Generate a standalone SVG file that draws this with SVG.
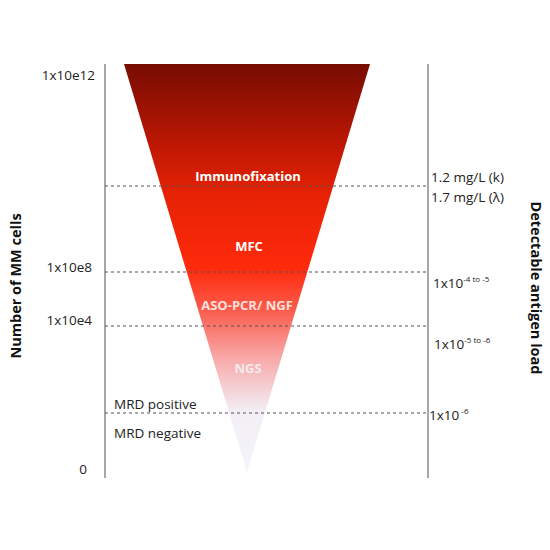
<svg xmlns="http://www.w3.org/2000/svg" width="550" height="550" viewBox="0 0 550 550">
<style>
.lbl{font-family:"Open Sans","Liberation Sans",sans-serif;font-size:13.5px;fill:#222}
.ax{font-family:"Open Sans","Liberation Sans",sans-serif;font-size:14.5px;font-weight:bold;fill:#111}
.in{font-family:"Open Sans","Liberation Sans",sans-serif;font-size:13px;font-weight:bold;text-anchor:middle}
.axis{stroke:#777;stroke-width:1.3;fill:none}
.dash{stroke:#555;stroke-width:1;stroke-dasharray:3,3;fill:none}
</style>
<defs>
<linearGradient id="g" x1="0" y1="64" x2="0" y2="472" gradientUnits="userSpaceOnUse">
<stop offset="0" stop-color="#760c02"/>
<stop offset="0.18" stop-color="#b81604"/>
<stop offset="0.32" stop-color="#e62204"/>
<stop offset="0.5" stop-color="#ff2a0c"/>
<stop offset="0.6" stop-color="#fb5a4a"/>
<stop offset="0.72" stop-color="#f8a8a8"/>
<stop offset="0.85" stop-color="#f2eef4"/>
<stop offset="1" stop-color="#f4f4fa"/>
</linearGradient>
</defs>
<rect width="550" height="550" fill="#fff"/>
<g id="funnel"><polygon points="124,64 370,64 247,472" fill="url(#g)"/></g>
<g id="connectors">
<line class="axis" x1="105" y1="64" x2="105" y2="478"/>
<line class="axis" x1="428" y1="64" x2="428" y2="478"/>
<line class="dash" x1="105" y1="186" x2="428" y2="186"/>
<line class="dash" x1="105" y1="272" x2="428" y2="272"/>
<line class="dash" x1="105" y1="326" x2="428" y2="326"/>
<line class="dash" x1="105" y1="413" x2="428" y2="413"/>
</g>
<g id="methods">
<text class="in" x="248" y="181" fill="#fff">Immunofixation</text>
<text class="in" x="249" y="251" fill="#fff">MFC</text>
<text class="in" x="247" y="310" fill="#fde0dc">ASO-PCR/ NGF</text>
<text class="in" x="248" y="373" fill="#f3eaee">NGS</text>
</g>
<g id="left-labels">
<text class="lbl" x="95" y="80" text-anchor="end">1x10e12</text>
<text class="lbl" x="92" y="272" text-anchor="end">1x10e8</text>
<text class="lbl" x="92" y="325" text-anchor="end">1x10e4</text>
<text class="lbl" x="87" y="474" text-anchor="end">0</text>
<text class="lbl" x="114" y="409">MRD positive</text>
<text class="lbl" x="114" y="438">MRD negative</text>
<text class="ax" transform="translate(21,286) rotate(-90)" text-anchor="middle">Number of MM cells</text>
</g>
<g id="right-labels">
<text class="lbl" x="431" y="182">1.2 mg/L (k)</text>
<text class="lbl" x="431" y="202">1.7 mg/L (λ)</text>
<text class="lbl" x="433" y="288">1x10<tspan font-size="8" dy="-6">-4 to -5</tspan></text>
<text class="lbl" x="434" y="349">1x10<tspan font-size="8" dy="-6">-5 to -6</tspan></text>
<text class="lbl" x="429" y="420">1x10<tspan font-size="8" dy="-6"> -6</tspan></text>
<text class="ax" transform="translate(531,288) rotate(90)" text-anchor="middle">Detectable antigen load</text>
</g>
</svg>
